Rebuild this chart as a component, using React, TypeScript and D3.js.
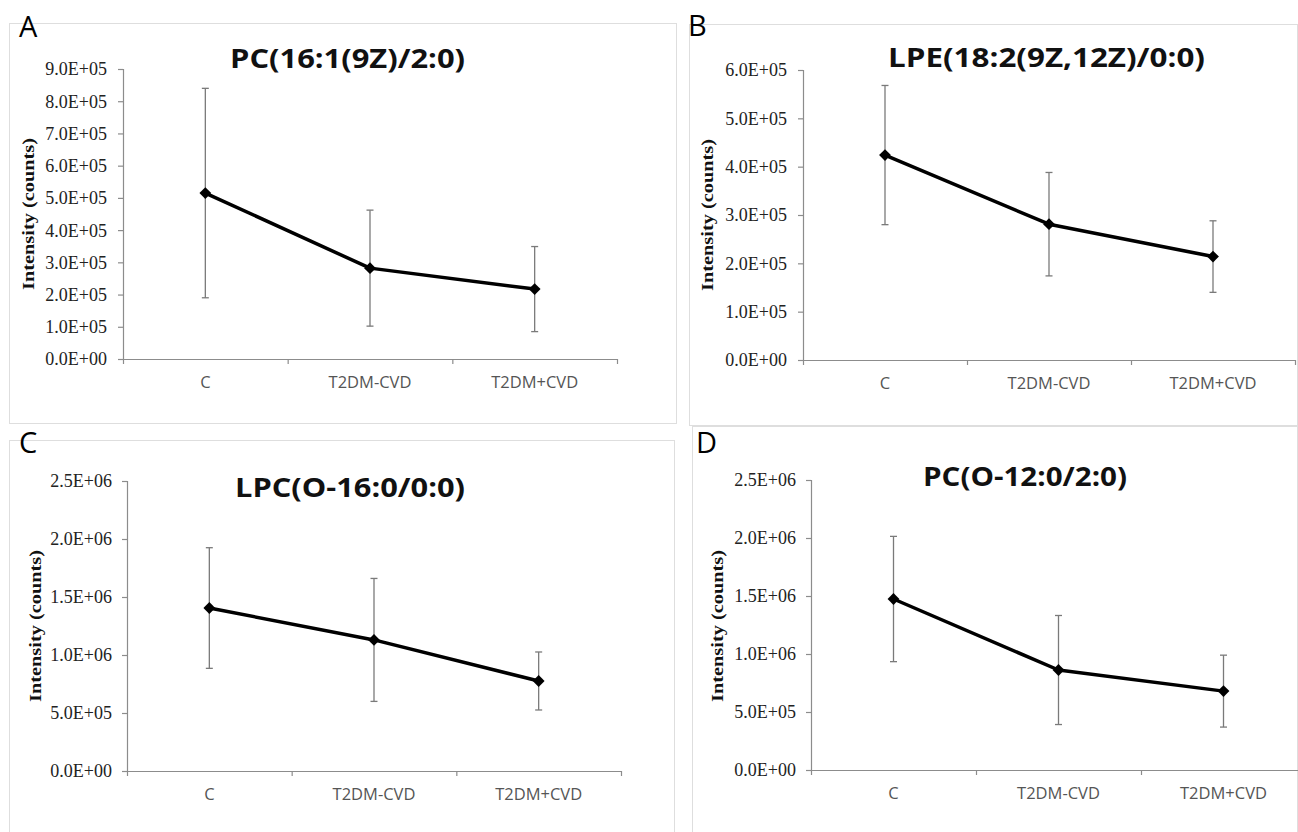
import React from "react";
import * as d3 from "d3";

// ---------- data ----------
const categories = ["C", "T2DM-CVD", "T2DM+CVD"];
const panelLetters = ["A", "B", "C", "D"];
const titles = ["PC(16:1(9Z)/2:0)", "LPE(18:2(9Z,12Z)/0:0)", "LPC(O-16:0/0:0)", "PC(O-12:0/2:0)"];

const meanA = [5.15e5, 2.82e5, 2.17e5];
const errA = [3.25e5, 1.8e5, 1.32e5];
const meanB = [4.24e5, 2.81e5, 2.14e5];
const errB = [1.44e5, 1.07e5, 0.74e5];
const meanC = [1.405e6, 1.13e6, 0.776e6];
const errC = [0.52e6, 0.53e6, 0.25e6];
const meanD = [1.474e6, 0.862e6, 0.68e6];
const errD = [0.54e6, 0.47e6, 0.31e6];

const ticksA = [0, 1e5, 2e5, 3e5, 4e5, 5e5, 6e5, 7e5, 8e5, 9e5];
const ticksB = [0, 1e5, 2e5, 3e5, 4e5, 5e5, 6e5];
const ticksC = [0, 5e5, 1e6, 1.5e6, 2e6, 2.5e6];
const ticksD = [0, 5e5, 1e6, 1.5e6, 2e6, 2.5e6];

const yAxisTitle = "Intensity (counts)";

// ---------- layout ----------
const layouts = [
  { box: [9, 23, 667, 400], plot: [123, 69, 617, 359], title: [347.5, 68, 235], letter: [19, 37], yt: [28, 214], gap: 16 },
  { box: [689, 24, 608, 401], plot: [803, 70, 1295, 360], title: [1046.5, 67, 317], letter: [688, 36], yt: [707, 215], gap: 16 },
  { box: [9, 440, 665, 400], plot: [127, 481, 621, 771], title: [350, 497, 230], letter: [19, 453], yt: [35, 626], gap: 15 },
  { box: [692, 426, 605, 410], plot: [811, 480, 1306, 770], title: [1025, 486, 204], letter: [696, 453], yt: [717, 626], gap: 15 },
];

const panelData = [
  { mean: meanA, err: errA, ticks: ticksA },
  { mean: meanB, err: errB, ticks: ticksB },
  { mean: meanC, err: errC, ticks: ticksC },
  { mean: meanD, err: errD, ticks: ticksD },
];

function fmt(v: number): string {
  if (v === 0) return "0.0E+00";
  const e = Math.floor(Math.log10(v) + 1e-9);
  const m = v / Math.pow(10, e);
  return m.toFixed(1) + "E+" + String(e).padStart(2, "0");
}

const AXIS = "#8c8c8c";
const ERR = "#7a7a7a";

function Panel({ i }: { i: number }) {
  const L = layouts[i];
  const D = panelData[i];
  const [l, t, r, b] = L.plot;
  const x = d3.scaleBand<string>().domain(categories).range([l, r]).padding(0);
  const y = d3.scaleLinear().domain([0, D.ticks[D.ticks.length - 1]]).range([b, t]);
  const cx = (c: string) => (x(c) as number) + x.bandwidth() / 2;
  const pts = categories.map((c, k) => [cx(c), y(D.mean[k])] as [number, number]);
  const line = d3.line()(pts) as string;
  const diamond = d3.symbol().type(d3.symbolSquare).size(70)() as string;
  const bounds = [l, ...categories.map((c) => (x(c) as number) + x.bandwidth())];
  return (
    <g>
      <rect x={L.box[0] + 0.5} y={L.box[1] + 0.5} width={L.box[2]} height={L.box[3]} fill="#fff" stroke="#dedede" strokeWidth={1} />
      <text x={L.letter[0]} y={L.letter[1]} fontFamily="'Open Sans', sans-serif" fontSize={29} fill="#000">
        {panelLetters[i]}
      </text>
      <text
        x={L.title[0]}
        y={L.title[1]}
        textAnchor="middle"
        fontFamily="'Open Sans', sans-serif"
        fontWeight="bold"
        fontSize={26}
        textLength={L.title[2]}
        lengthAdjust="spacingAndGlyphs"
        fill="#111"
      >
        {titles[i]}
      </text>
      {/* y axis */}
      <line x1={l + 0.5} x2={l + 0.5} y1={t} y2={b + 0.5} stroke={AXIS} strokeWidth={1.2} />
      {D.ticks.map((v) => (
        <g key={v}>
          <line x1={l - 5} x2={l} y1={y(v) + 0.5} y2={y(v) + 0.5} stroke={AXIS} strokeWidth={1.2} />
          <text
            x={l - L.gap}
            y={y(v)}
            dy="0.36em"
            textAnchor="end"
            fontFamily="'Liberation Serif', 'Times New Roman', serif"
            fontSize={18}
            fill="#222"
          >
            {fmt(v)}
          </text>
        </g>
      ))}
      {/* x axis */}
      <line x1={l} x2={r} y1={b + 0.5} y2={b + 0.5} stroke={AXIS} strokeWidth={1.2} />
      {bounds.map((bx, k) => (
        <line key={k} x1={bx + 0.5} x2={bx + 0.5} y1={b} y2={b + 5} stroke={AXIS} strokeWidth={1.2} />
      ))}
      {categories.map((c) => (
        <text key={c} x={cx(c)} y={b + 29} textAnchor="middle" fontFamily="'Open Sans', sans-serif" fontSize={16.5} fill="#555">
          {c}
        </text>
      ))}
      {/* y title */}
      <text
        transform={`translate(${L.yt[0]},${L.yt[1]}) rotate(-90)`}
        textAnchor="middle"
        dy="0.35em"
        fontFamily="'Liberation Serif', 'Times New Roman', serif"
        fontWeight="bold"
        fontSize={17}
        textLength={152}
        lengthAdjust="spacingAndGlyphs"
        fill="#111"
      >
        {yAxisTitle}
      </text>
      {/* error bars */}
      {categories.map((c, k) => {
        const xc = cx(c);
        const y1 = y(D.mean[k] + D.err[k]);
        const y0 = y(D.mean[k] - D.err[k]);
        return (
          <g key={c} stroke={ERR} strokeWidth={1.3}>
            <line x1={xc} x2={xc} y1={y1} y2={y0} />
            <line x1={xc - 3.5} x2={xc + 3.5} y1={y1} y2={y1} />
            <line x1={xc - 3.5} x2={xc + 3.5} y1={y0} y2={y0} />
          </g>
        );
      })}
      <path d={line} fill="none" stroke="#000" strokeWidth={3.5} strokeLinejoin="round" />
      {pts.map((p, k) => (
        <path key={k} d={diamond} transform={`translate(${p[0]},${p[1]}) rotate(45)`} fill="#000" />
      ))}
    </g>
  );
}

export default function App() {
  return (
    <svg
      width={1298}
      height={832}
      style={{ position: "absolute", left: 0, top: 0, background: "#fff" }}
      xmlns="http://www.w3.org/2000/svg"
    >
      <rect x={0} y={0} width={1298} height={832} fill="#fff" />
      {[0, 1, 2, 3].map((i) => (
        <Panel key={i} i={i} />
      ))}
    </svg>
  );
}
